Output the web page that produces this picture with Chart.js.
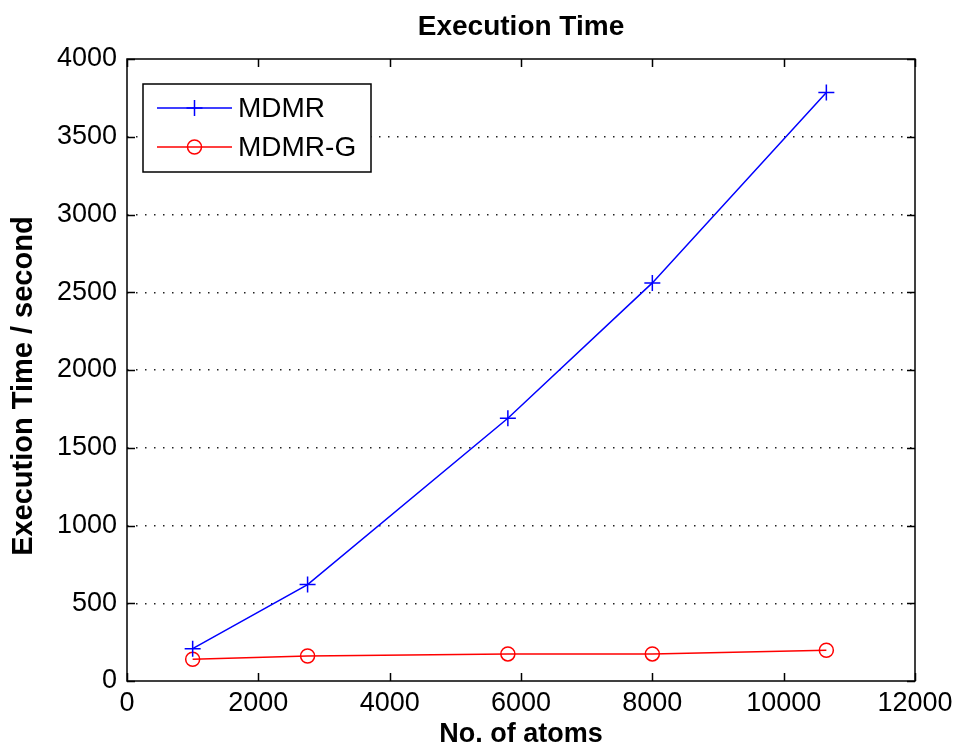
<!DOCTYPE html>
<html>
<head>
<meta charset="utf-8">
<script src="https://cdn.jsdelivr.net/npm/chart.js@4"></script>
<style>
  body { margin: 0; background: #fff; }
  canvas { display: block; }
</style>
</head>
<body>
<canvas id="execChart" width="960" height="748"></canvas>
<script>
// values
const atoms = [1000, 2750, 5800, 8000, 10650];
const mdmrTime = [208, 620, 1690, 2560, 3785];
const mdmrGTime = [140, 161, 174, 174, 198];
const seriesNames = ['MDMR', 'MDMR-G'];
const xTickStep = 2000;
const yTickStep = 500;

const FONT = "'Liberation Sans', Arial, sans-serif";

// MATLAB style box with inward ticks on all four sides
const frameBox = {
  id: 'frameBox',
  afterDatasetsDraw(chart) {
    const { ctx, chartArea: a, scales } = chart;
    const len = 8;
    ctx.save();
    ctx.strokeStyle = '#000';
    ctx.lineWidth = 1.5;
    ctx.beginPath();
    scales.x.ticks.forEach(t => {
      const px = Math.round(scales.x.getPixelForValue(t.value)) + 0.5;
      ctx.moveTo(px, a.bottom); ctx.lineTo(px, a.bottom - len);
      ctx.moveTo(px, a.top); ctx.lineTo(px, a.top + len);
    });
    scales.y.ticks.forEach(t => {
      const py = Math.round(scales.y.getPixelForValue(t.value)) + 0.5;
      ctx.moveTo(a.left, py); ctx.lineTo(a.left + len, py);
      ctx.moveTo(a.right, py); ctx.lineTo(a.right - len, py);
    });
    ctx.stroke();
    ctx.strokeRect(a.left, a.top, a.right - a.left, a.bottom - a.top);
    ctx.restore();
  }
};

// legend box: line with marker in the middle, like MATLAB
const boxLegend = {
  id: 'boxLegend',
  afterDraw(chart) {
    const { ctx } = chart;
    const x0 = 143, y0 = 84, w = 228, h = 88;
    ctx.save();
    ctx.fillStyle = '#fff';
    ctx.fillRect(x0, y0, w, h);
    ctx.strokeStyle = '#000';
    ctx.lineWidth = 1.5;
    ctx.strokeRect(x0, y0, w, h);
    chart.data.datasets.forEach((ds, i) => {
      const y = 108 + i * 39;
      const mx = 194.5;
      ctx.strokeStyle = ds.borderColor;
      ctx.lineWidth = 1.5;
      ctx.beginPath();
      ctx.moveTo(157, y); ctx.lineTo(232, y);
      ctx.stroke();
      ctx.beginPath();
      if (ds.pointStyle === 'cross') {
        ctx.moveTo(mx - 8, y); ctx.lineTo(mx + 8, y);
        ctx.moveTo(mx, y - 8); ctx.lineTo(mx, y + 8);
      } else {
        ctx.arc(mx, y, 7, 0, Math.PI * 2);
      }
      ctx.stroke();
      ctx.fillStyle = '#000';
      ctx.font = '28px ' + FONT;
      ctx.textBaseline = 'middle';
      ctx.textAlign = 'left';
      ctx.fillText(ds.label, 238, y + 1);
    });
    ctx.restore();
  }
};

new Chart(document.getElementById('execChart'), {
  type: 'line',
  data: {
    datasets: [{
      label: seriesNames[0],
      data: atoms.map((a, i) => ({ x: a, y: mdmrTime[i] })),
      borderColor: '#0000ff',
      borderWidth: 1.5,
      pointStyle: 'cross',
      pointRadius: 8,
      pointBorderWidth: 1.5,
      pointBorderColor: '#0000ff',
      pointBackgroundColor: 'rgba(0,0,0,0)',
      tension: 0
    }, {
      label: seriesNames[1],
      data: atoms.map((a, i) => ({ x: a, y: mdmrGTime[i] })),
      borderColor: '#ff0000',
      borderWidth: 1.5,
      pointStyle: 'circle',
      pointRadius: 7,
      pointBorderWidth: 1.5,
      pointBorderColor: '#ff0000',
      pointBackgroundColor: 'rgba(0,0,0,0)',
      tension: 0
    }]
  },
  options: {
    responsive: false,
    animation: false,
    layout: { padding: 0 },
    plugins: {
      legend: { display: false },
      tooltip: { enabled: false },
      title: {
        display: true,
        fullSize: false,
        text: 'Execution Time',
        color: '#000',
        font: { family: FONT, size: 28, weight: 'bold', lineHeight: 1.2 },
        padding: { top: 10, bottom: 15.4 }
      }
    },
    scales: {
      x: {
        type: 'linear',
        min: 0,
        max: 12000,
        ticks: {
          stepSize: xTickStep,
          color: '#000',
          padding: 6,
          maxRotation: 0,
          font: { family: FONT, size: 27 },
          callback: v => String(v)
        },
        grid: { display: false, drawTicks: false },
        border: { display: false },
        title: {
          display: true,
          text: 'No. of atoms',
          color: '#000',
          font: { family: FONT, size: 27, weight: 'bold', lineHeight: 1 },
          padding: { top: 0, bottom: 0 }
        },
        afterFit(scale) {
          scale.height = 67;
          scale.paddingLeft = 0;
          scale.paddingRight = 45;
        }
      },
      y: {
        min: 0,
        max: 4000,
        ticks: {
          stepSize: yTickStep,
          color: '#000',
          padding: 10,
          font: { family: FONT, size: 27 },
          callback: v => String(v)
        },
        grid: {
          drawTicks: false,
          lineWidth: 1.5,
          color: c => (c.tick && (c.tick.value === 0 || c.tick.value === 4000)) ? 'rgba(0,0,0,0)' : '#222'
        },
        border: { display: false, dash: [1.5, 7.5] },
        title: {
          display: true,
          text: 'Execution Time / second    ',
          color: '#000',
          font: { family: FONT, size: 29, weight: 'bold', lineHeight: 1.2 },
          padding: { top: 7, bottom: 0 }
        },
        afterFit(scale) {
          scale.width = 127;
        }
      }
    }
  },
  plugins: [frameBox, boxLegend]
});
</script>
</body>
</html>
